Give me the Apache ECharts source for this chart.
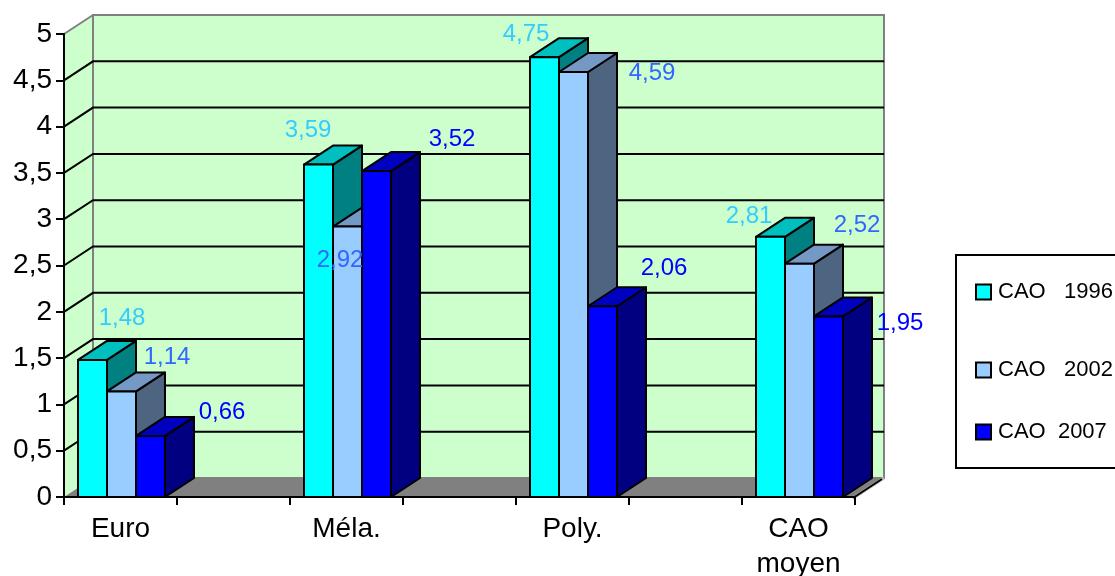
<!DOCTYPE html>
<html>
<head>
<meta charset="utf-8">
<script src="https://cdn.jsdelivr.net/npm/echarts@6/dist/echarts.min.js"></script>
<style>
  html, body { margin: 0; padding: 0; background: #ffffff; }
  #chart { width: 1115px; height: 576px; }
</style>
</head>
<body>
<div id="chart"></div>
<script>
// Categories and values per year
const categories = ['Euro', 'Méla.', 'Poly.', 'CAO\nmoyen'];
const cao1996 = [1.48, 3.59, 4.75, 2.81];
const cao2002 = [1.14, 2.92, 4.59, 2.52];
const cao2007 = [0.66, 3.52, 2.06, 1.95];
const seriesNames = ['CAO   1996', 'CAO   2002', 'CAO  2007'];

// Face colours (front, top, side) and label colour per year
const palette = [
  { front: '#00FFFF', top: '#00BFBF', side: '#008080', label: '#33CCFF' },
  { front: '#99CCFF', top: '#7499C4', side: '#4D6580', label: '#3366FF' },
  { front: '#0000FF', top: '#0000C0', side: '#000080', label: '#0000FF' }
];

// Label placement relative to each column's top-left front corner (px)
const labelShift = [
  [[44, -42], [4, -34], [-4, -23], [-7, -20]],
  [[60, -34], [7, 34], [93, 1], [72, -38]],
  [[86, -24], [90, -32], [76, -38], [86, 7]]
];

const FONT = 'Arial, "Liberation Sans", sans-serif';
const DEPTH_X = 29, DEPTH_Y = -19;

// Axis slots: every category followed by an empty spacer slot
const slots = [];
categories.forEach((c, i) => { if (i) slots.push(''); slots.push(c); });

const fmt = v => String(v).replace('.', ',');

function wallsItem(params, api) {
  const cs = params.coordSys;
  const x0 = cs.x, x1 = cs.x + cs.width;
  const yb = cs.y + cs.height, yt = cs.y;
  const dx = DEPTH_X, dy = DEPTH_Y;
  const children = [];
  // left side wall
  children.push({ type: 'polygon', shape: { points: [[x0, yt], [x0 + dx, yt + dy], [x0 + dx, yb + dy], [x0, yb]] },
    style: { fill: '#CCFFCC', stroke: null } });
  // back wall
  children.push({ type: 'rect', shape: { x: x0 + dx, y: yt + dy, width: x1 - x0, height: yb - yt },
    style: { fill: '#CCFFCC', stroke: '#808080', lineWidth: 2 } });
  // grid lines on back and side walls
  for (let v = 0.5; v < 5; v += 0.5) {
    const y = api.coord([0, v])[1];
    children.push({ type: 'polyline', shape: { points: [[x0, y], [x0 + dx, y + dy], [x1 + dx, y + dy]] },
      style: { stroke: '#000', lineWidth: 2, fill: null } });
  }
  // top edge of side wall
  children.push({ type: 'line', shape: { x1: x0, y1: yt, x2: x0 + dx, y2: yt + dy },
    style: { stroke: '#808080', lineWidth: 2 } });
  // floor
  children.push({ type: 'polygon', shape: { points: [[x0, yb], [x0 + dx, yb + dy], [x1 + dx, yb + dy], [x1, yb]] },
    style: { fill: '#808080', stroke: null } });
  children.push({ type: 'line', shape: { x1: x1, y1: yb, x2: x1 + dx, y2: yb + dy },
    style: { stroke: '#C0C0C0', lineWidth: 3 } });
  children.push({ type: 'line', shape: { x1: x1 - 2, y1: yb + 1, x2: x1 + dx - 2, y2: yb + dy + 1 },
    style: { stroke: '#000', lineWidth: 2 } });
  return { type: 'group', children };
}

function barRenderer(k) {
  return function (params, api) {
    const slot = api.value(0), v = api.value(1);
    const base = api.coord([slot, 0]);
    const topPt = api.coord([slot, v]);
    const slotW = api.size([1, 0])[0];
    const w = slotW * 29 / 113;
    const x = base[0] - slotW / 2 + slotW * 14 / 113 + k * w;
    const yb = base[1], yt = topPt[1];
    const dx = DEPTH_X, dy = DEPTH_Y;
    const c = palette[k];
    const edge = { stroke: '#000', lineWidth: 2, lineJoin: 'round' };
    const sh = labelShift[k][params.dataIndex];
    return {
      type: 'group',
      children: [
        { type: 'polygon', shape: { points: [[x + w, yt], [x + w + dx, yt + dy], [x + w + dx, yb + dy], [x + w, yb]] },
          style: Object.assign({ fill: c.side }, edge) },
        { type: 'polygon', shape: { points: [[x, yt], [x + dx, yt + dy], [x + w + dx, yt + dy], [x + w, yt]] },
          style: Object.assign({ fill: c.top }, edge) },
        { type: 'rect', shape: { x: x, y: yt, width: w, height: yb - yt },
          style: Object.assign({ fill: c.front }, edge) },
        { type: 'text', z2: 10,
          style: { text: fmt(v), x: x + sh[0], y: yt + sh[1], fill: c.label,
                   font: '24px ' + FONT, align: 'center', verticalAlign: 'middle' } }
      ]
    };
  };
}

const yearValues = [cao1996, cao2002, cao2007];
const barSeries = yearValues.map((vals, k) => ({
  type: 'custom',
  name: seriesNames[k],
  z: 3,
  itemStyle: { color: palette[k].front },
  renderItem: barRenderer(k),
  data: vals.map((v, i) => [2 * i, v])
}));

const legendTops = [276, 354, 416];
const legends = seriesNames.map((n, k) => ({
  data: [n],
  left: 970,
  top: legendTops[k],
  icon: 'rect',
  itemWidth: 15,
  itemHeight: 15,
  itemStyle: { borderColor: '#000', borderWidth: 2 },
  textStyle: { fontSize: 22, fontFamily: FONT, color: '#000', padding: [0, 0, 0, 2] },
  selectedMode: false
}));

const chart = echarts.init(document.getElementById('chart'), null, { renderer: 'canvas' });
chart.setOption({
  animation: false,
  backgroundColor: '#ffffff',
  grid: { left: 64, right: 260, top: 34, bottom: 79, containLabel: false, outerBoundsMode: 'none' },
  legend: legends,
  graphic: [{
    type: 'rect', left: 955, top: 254, z: -10,
    shape: { width: 190, height: 213 },
    style: { fill: '#fff', stroke: '#000', lineWidth: 2 }
  }],
  xAxis: {
    type: 'category',
    data: slots,
    axisLine: { lineStyle: { color: '#000', width: 2 } },
    axisTick: { show: true, length: 8, interval: 0, lineStyle: { color: '#000', width: 2 } },
    axisLabel: { interval: 0, margin: 15, fontSize: 28, lineHeight: 35, color: '#000', fontFamily: FONT },
    splitLine: { show: false }
  },
  yAxis: {
    type: 'value',
    min: 0, max: 5, interval: 0.5,
    axisLine: { show: true, lineStyle: { color: '#000', width: 2 } },
    axisTick: { show: true, length: 8, lineStyle: { color: '#000', width: 2 } },
    axisLabel: { formatter: fmt, margin: 12, fontSize: 28, color: '#000', fontFamily: FONT },
    splitLine: { show: false }
  },
  series: [{
    type: 'custom',
    name: 'walls',
    z: -1,
    silent: true,
    renderItem: wallsItem,
    data: [[0, 0]]
  }].concat(barSeries)
});
</script>
</body>
</html>
